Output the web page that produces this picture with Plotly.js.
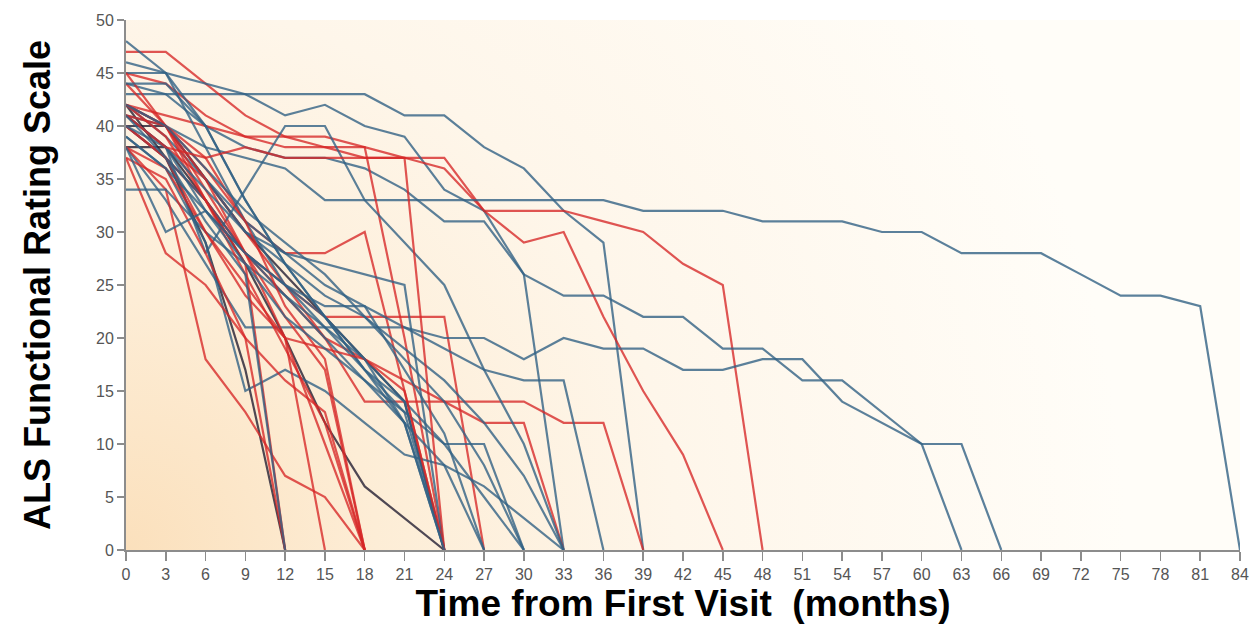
<!DOCTYPE html>
<html>
<head>
<meta charset="utf-8">
<script src="https://cdn.plot.ly/plotly-3.0.1.min.js"></script>
<style>
  html, body { margin: 0; padding: 0; background: #ffffff; }
  #chart { width: 1250px; height: 644px; }
</style>
</head>
<body>
<div id="chart"></div>
<script>
// Visit months (every 3 months from the first visit)
const months = [0,3,6,9,12,15,18,21,24,27,30,33,36,39,42,45,48,51,54,57,60,63,66,69,72,75,78,81,84];
const xTickLabels = months.map(String);
const yTickValues = [0,5,10,15,20,25,30,35,40,45,50];

// ALSFRS scores per patient, one value per visit (blue group)
const b01 = [43,43,43,43,43,43,43,41,41,38,36,32,29,0];
const b02 = [46,45,44,43,41,42,40,39,34,32,26,0];
const b03 = [41,40,38,37,36,33,33,33,33,33,33,33,33,32,32,32,31,31,31,30,30,28,28,28,26,24,24,23,0];
const b04 = [44,43,40,38,37,37,36,34,31,31,26,24,24,22,22,19,19,16,16,13,10,10,0];
const b05 = [38,33,27,21,21,21,21,21,20,20,18,20,19,19,17,17,18,18,14,12,10,0];
const b06 = [42,40,35,31,28,25,23,21,19,17,16,16,0];
const b07 = [41,38,32,28,24,20,16,13,10,10,0];
const b08 = [39,36,29,15,17,15,12,9,8,6,3,0];
const b09 = [40,37,33,28,25,23,23,17,11,0];
const b10 = [42,39,35,30,28,27,26,25,0];
const b11 = [41,38,28,34,40,40,33,29,25,17,10,0];
const b12 = [34,34,30,27,24,21,18,14,10,5,0];
const b13 = [48,45,40,33,27,22,17,14,0];
const b14 = [45,45,38,31,25,21,17,13,0];
const b15 = [44,44,40,33,27,22,17,12,8,0];
const b16 = [40,38,34,30,27,24,22,19,16,12,7,0];
const b17 = [42,40,36,32,29,26,22,18,14,8,0];
const b18 = [39,36,32,28,25,22,18,12,0];
const b19 = [41,37,31,26,0];
const b20 = [38,30,32,27,22,19,16,12,0];

// Darker traces
const d01 = [42,37,29,17,0];
const d02 = [40,40,35,30,26,22,18,14,0];
const d03 = [38,38,33,27,20,12,6,3,0];

// Red group
const r01 = [47,47,44,41,39,38,38,37,37,32,32,32,31,30,27,25,0];
const r02 = [45,44,41,39,38,38,37,37,36,32,29,30,22,15,9,0];
const r03 = [42,40,37,31,28,28,30,15,0];
const r04 = [41,38,35,30,25,22,22,22,22,0];
const r05 = [40,37,33,28,25,20,14,14,14,14,14,12,12,0];
const r06 = [40,37,33,28,24,20,18,16,14,12,12,0];
const r07 = [42,41,40,39,39,39,38,20,0];
const r08 = [38,34,18,13,7,5,0];
const r09 = [37,28,25,20,16,13,0];
const r10 = [44,40,35,28,22,17,0];
const r11 = [40,37,30,25,20,10,0];
const r12 = [42,40,34,28,20,0];
const r13 = [42,39,33,27,0];
const r14 = [45,40,33,26,19,12,0];
const r15 = [38,36,30,24,20,19,18,15,0];
const r16 = [41,40,36,31,23,18,0];
const r17 = [37,35,28,20,0];
const r18 = [41,38,37,38,37,37,37,37,0];

const blueGroup = [b01,b02,b03,b04,b05,b06,b07,b08,b09,b10,b11,b12,b13,b14,b15,b16,b17,b18,b19,b20];
const darkGroup = [d01,d02,d03];
const redGroup = [r01,r02,r03,r04,r05,r06,r07,r08,r09,r10,r11,r12,r13,r14,r15,r16,r17,r18];

const BLUE = 'rgba(50,98,132,0.8)';
const RED = 'rgba(214,38,38,0.78)';
const DARK = 'rgba(35,30,50,0.8)';

function trace(vals, color) {
  return {
    type: 'scatter',
    mode: 'lines',
    x: months.slice(0, vals.length),
    y: vals,
    line: { color: color, width: 2.2 },
    hoverinfo: 'skip',
    showlegend: false
  };
}

// interleave groups so neither colour sits entirely on top
const traces = [];
const n = Math.max(blueGroup.length, redGroup.length);
for (let i = 0; i < n; i++) {
  if (blueGroup[i]) traces.push(trace(blueGroup[i], BLUE));
  if (redGroup[i]) traces.push(trace(redGroup[i], RED));
  if (darkGroup[i]) traces.push(trace(darkGroup[i], DARK));
}

// warm glow in the plot area, strongest at the lower-left corner
function glow() {
  const c = document.createElement('canvas');
  c.width = 1114; c.height = 530;
  const g = c.getContext('2d');
  const grd = g.createRadialGradient(0, 530, 0, 0, 530, 1000);
  grd.addColorStop(0, '#fbe0bc');
  grd.addColorStop(0.25, '#fdedd6');
  grd.addColorStop(0.55, '#fef6ea');
  grd.addColorStop(1, '#fffdf8');
  g.fillStyle = grd;
  g.fillRect(0, 0, c.width, c.height);
  return c.toDataURL('image/png');
}

const axisFont = { family: 'Liberation Sans, Arial, sans-serif', size: 16, color: '#555555' };
const titleFont = { family: 'Liberation Sans, Arial, sans-serif', size: 37, color: '#000000', weight: 'bold' };

const layout = {
  width: 1250,
  height: 644,
  margin: { l: 126, r: 10, t: 20, b: 94 },
  paper_bgcolor: '#ffffff',
  plot_bgcolor: 'rgba(0,0,0,0)',
  images: [{
    source: glow(), xref: 'paper', yref: 'paper', x: 0, y: 1,
    sizex: 1, sizey: 1, sizing: 'stretch', layer: 'below'
  }],
  xaxis: {
    range: [0, 84],
    tickmode: 'array',
    tickvals: months,
    ticktext: xTickLabels,
    ticks: 'outside', ticklen: 9, tickcolor: '#8c8c8c', tickwidth: 1.5,
    showline: true, linecolor: '#8c8c8c', linewidth: 2,
    showgrid: false, zeroline: false,
    tickfont: axisFont,
    title: {
      text: 'Time from First Visit\u00a0\u00a0(months)',
      font: titleFont,
      standoff: 6
    }
  },
  yaxis: {
    range: [0, 50],
    tickmode: 'array',
    tickvals: yTickValues,
    ticks: 'outside', ticklen: 7, tickcolor: '#8c8c8c', tickwidth: 1.5,
    showline: true, linecolor: '#8c8c8c', linewidth: 2,
    showgrid: false, zeroline: false,
    tickfont: axisFont,
    title: {
      text: 'ALS Functional Rating Scale',
      font: Object.assign({}, titleFont, { size: 36 }),
      standoff: 34
    }
  }
};

Plotly.newPlot('chart', traces, layout, { staticPlot: true, displayModeBar: false });
</script>
</body>
</html>
